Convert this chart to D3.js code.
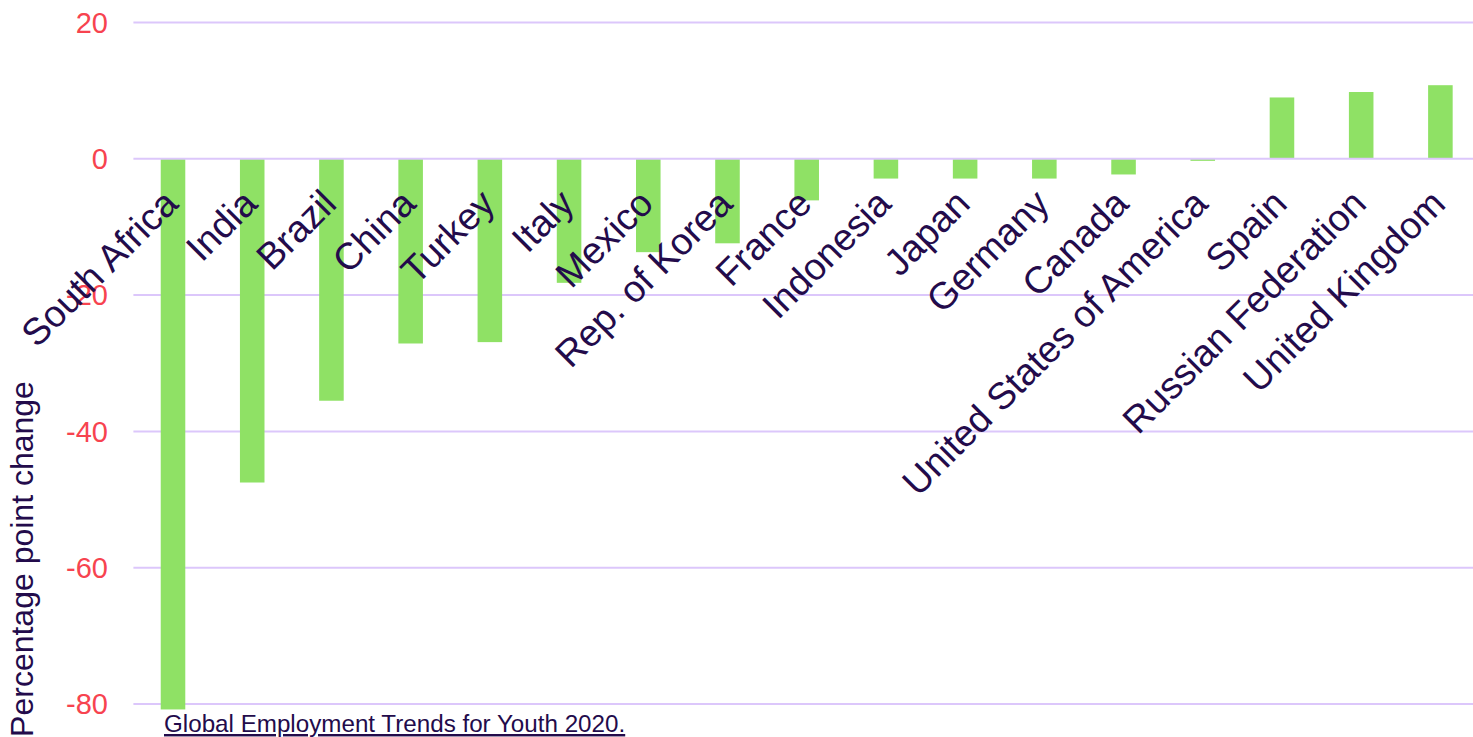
<!DOCTYPE html>
<html>
<head>
<meta charset="utf-8">
<script src="https://cdn.jsdelivr.net/npm/d3@7"></script>
<style>
  html, body { margin: 0; padding: 0; background: #ffffff; }
  svg { display: block; }
  text { font-family: "Liberation Sans", Arial, Helvetica, sans-serif; }
</style>
</head>
<body>
<svg id="chart" width="1473" height="737"></svg>
<script>
const categories = ["South Africa", "India", "Brazil", "China", "Turkey", "Italy", "Mexico",
  "Rep. of Korea", "France", "Indonesia", "Japan", "Germany", "Canada",
  "United States of America", "Spain", "Russian Federation", "United Kingdom"];
const values = [-80.8, -47.5, -35.5, -27.1, -26.9, -18.2, -13.7, -12.4, -6.1,
  -2.9, -2.9, -2.9, -2.3, -0.3, 9.0, 9.8, 10.8];
const tickValues = [20, 0, -20, -40, -60, -80];
const yAxisTitle = "Percentage point change";
const sourceText = "Global Employment Trends for Youth 2020.";

const W = 1473, H = 737;
const plot = { left: 133.4, right: 1480, top: 22.5, bottom: 704 };

const svg = d3.select("#chart");

const x = d3.scaleBand()
  .domain(categories)
  .range([plot.left, plot.right])
  .paddingInner(0.69)
  .paddingOuter(0.345);

const y = d3.scaleLinear()
  .domain([-80, 20])
  .range([plot.bottom, plot.top]);

// gridlines
svg.append("g")
  .selectAll("line")
  .data(tickValues.filter(d => d !== 0))
  .join("line")
  .attr("x1", plot.left)
  .attr("x2", W)
  .attr("y1", d => y(d))
  .attr("y2", d => y(d))
  .attr("stroke", "#dcc7fb")
  .attr("stroke-width", 2);

// y tick labels
svg.append("g")
  .selectAll("text")
  .data(tickValues)
  .join("text")
  .attr("x", 108)
  .attr("y", d => y(d))
  .attr("dy", "0.35em")
  .attr("text-anchor", "end")
  .attr("fill", "#f7434f")
  .style("font-size", "29px")
  .text(d => d);

// bars
svg.append("g")
  .selectAll("rect")
  .data(categories)
  .join("rect")
  .attr("x", d => x(d))
  .attr("width", x.bandwidth())
  .attr("y", (d, i) => Math.min(y(0), y(values[i])))
  .attr("height", (d, i) => Math.abs(y(values[i]) - y(0)))
  .attr("fill", "#8fe165");

// zero line on top
svg.append("line")
  .attr("x1", plot.left)
  .attr("x2", W)
  .attr("y1", y(0))
  .attr("y2", y(0))
  .attr("stroke", "#dcc7fb")
  .attr("stroke-width", 2);

// category labels
svg.append("g")
  .selectAll("text")
  .data(categories)
  .join("text")
  .attr("transform", d => `translate(${x(d) + x.bandwidth() / 2 + 7},${y(0) + 47}) rotate(-45)`)
  .attr("text-anchor", "end")
  .attr("fill", "#230b4b")
  .style("font-size", "37.5px")
  .text(d => d);

// y axis title
svg.append("text")
  .attr("transform", `translate(33,559) rotate(-90)`)
  .attr("text-anchor", "middle")
  .attr("fill", "#230b4b")
  .style("font-size", "32px")
  .text(yAxisTitle);

// source
svg.append("text")
  .attr("x", 164)
  .attr("y", 732)
  .attr("fill", "#230b4b")
  .style("font-size", "24.2px")
  .style("text-decoration", "underline")
  .text(sourceText);
</script>
</body>
</html>
